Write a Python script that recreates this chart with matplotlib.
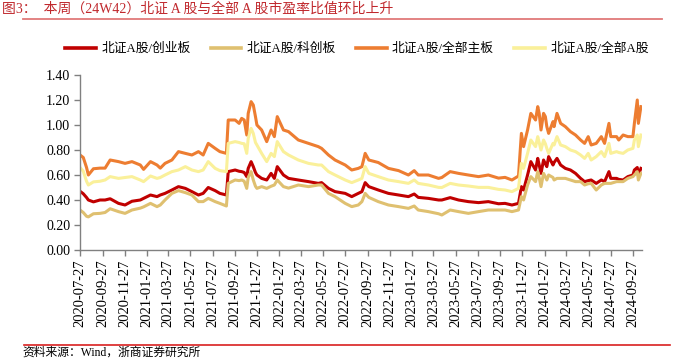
import pandas as pd
import matplotlib
matplotlib.use("Agg")
import matplotlib.pyplot as plt
from matplotlib.lines import Line2D

plt.rcParams['font.family'] = ['Liberation Serif', 'Noto Sans CJK SC', 'DejaVu Sans']

# readings, one shared date grid
dates = [
    "2020-07-27", "2020-08-05", "2020-08-14", "2020-08-19", "2020-09-02", "2020-09-20",
    "2020-10-04", "2020-10-18", "2020-11-10", "2020-11-28", "2020-12-17", "2021-01-09",
    "2021-01-18", "2021-02-06", "2021-02-24", "2021-03-05", "2021-03-18", "2021-04-06",
    "2021-04-24", "2021-05-13", "2021-05-31", "2021-06-18", "2021-07-01", "2021-07-15",
    "2021-08-03", "2021-08-16", "2021-09-03", "2021-09-08", "2021-09-27", "2021-10-08",
    "2021-10-15", "2021-10-22", "2021-10-29", "2021-11-02", "2021-11-10", "2021-11-16",
    "2021-11-22", "2021-11-26", "2021-12-09", "2021-12-23", "2022-01-04", "2022-01-13",
    "2022-01-21", "2022-02-07", "2022-02-21", "2022-03-20", "2022-04-17", "2022-05-14",
    "2022-05-23", "2022-06-11", "2022-06-29", "2022-07-27", "2022-08-14", "2022-09-01",
    "2022-09-11", "2022-09-20", "2022-09-30", "2022-10-26", "2022-11-23", "2022-12-21",
    "2023-01-17", "2023-02-02", "2023-02-13", "2023-03-13", "2023-04-10", "2023-04-19",
    "2023-05-12", "2023-06-04", "2023-07-01", "2023-07-29", "2023-08-25", "2023-09-22",
    "2023-10-10", "2023-10-29", "2023-11-16", "2023-11-24", "2023-11-30", "2023-12-11",
    "2023-12-20", "2024-01-02", "2024-01-08", "2024-01-12", "2024-01-17", "2024-01-24",
    "2024-01-29", "2024-02-02", "2024-02-07", "2024-02-19", "2024-02-22", "2024-03-01",
    "2024-03-11", "2024-03-24", "2024-04-07", "2024-04-21", "2024-05-05", "2024-05-16",
    "2024-05-26", "2024-06-03", "2024-06-17", "2024-07-01", "2024-07-10", "2024-07-22",
    "2024-07-27", "2024-08-12", "2024-08-18", "2024-08-30", "2024-09-12", "2024-09-26",
    "2024-09-30", "2024-10-08", "2024-10-11", "2024-10-18",
]

bse_gem = [  # 北证A股/创业板
    .47, .45, .42, .40, .385, .40, .40, .41, .373, .36, .39, .40,
    .413, .44, .427, .44, .453, .48, .507, .493, .467, .44, .453, .50,
    .475, .453, .44, .627, .64, .63, .627, .62, .587, .653, .707, .667,
    .62, .60, .573, .56, .613, .573, .667, .60, .573, .56, .547, .533,
    .539, .493, .467, .453, .427, .453, .467, .539, .507, .48, .453, .44,
    .427, .448, .421, .413, .40, .40, .419, .40, .387, .379, .387, .37,
    .373, .36, .373, .507, .48, .60, .707, .64, .733, .68, .613, .72,
    .69, .667, .747, .68, .70, .733, .68, .653, .64, .613, .573, .547,
    .555, .56, .533, .56, .547, .627, .573, .573, .565, .56, .587, .60,
    .64, .66, .60, .653,
]

bse_star = [  # 北证A股/科创板
    .32, .30, .27, .265, .29, .293, .30, .33, .307, .293, .32, .335,
    .345, .373, .347, .36, .40, .453, .475, .459, .44, .387, .387, .413,
    .387, .373, .352, .533, .56, .555, .56, .55, .493, .58, .627, .56,
    .51, .493, .507, .493, .51, .52, .56, .507, .495, .52, .507, .52,
    .52, .453, .427, .373, .347, .36, .387, .453, .421, .387, .36, .347,
    .333, .352, .32, .307, .29, .28, .32, .307, .293, .307, .32, .32,
    .32, .307, .32, .427, .40, .52, .587, .547, .627, .58, .507, .613,
    .585, .56, .60, .58, .56, .573, .573, .573, .56, .547, .547, .52,
    .53, .533, .48, .52, .533, .533, .533, .547, .547, .547, .573, .587,
    .60, .627, .56, .613,
]

bse_main = [  # 北证A股/全部主板
    .76, .74, .66, .60, .65, .655, .655, .72, .707, .693, .707, .68,
    .645, .707, .68, .655, .693, .72, .787, .773, .76, .787, .76, .853,
    .813, .787, .773, 1.04, 1.04, 1.013, 1.053, 1.04, .92, 1.093, 1.187, 1.16,
    1.067, 1.00, .96, .867, .96, .907, 1.067, .96, .947, .88, .853, .827,
    .813, .76, .72, .68, .64, .653, .667, .773, .72, .70, .653, .635,
    .60, .635, .60, .60, .573, .58, .627, .613, .60, .587, .60, .575,
    .581, .56, .592, .933, .827, .96, 1.093, 1.04, 1.147, 1.093, .96, 1.093,
    1.067, .987, .933, 1.027, .987, 1.093, 1.013, .987, .947, .92, .88, .853,
    .907, .84, .853, .907, .853, 1.013, .907, .907, .88, .92, .907, .907,
    1.013, 1.20, 1.013, 1.147,
]

bse_all = [  # 北证A股/全部A股
    .66, .63, .55, .52, .545, .55, .56, .587, .573, .58, .587, .56,
    .547, .592, .573, .58, .60, .627, .64, .667, .64, .627, .64, .707,
    .653, .635, .627, .853, .867, .86, .853, .85, .773, .893, .973, .933,
    .86, .84, .773, .707, .773, .747, .867, .787, .76, .72, .693, .68,
    .68, .627, .60, .56, .539, .56, .573, .667, .613, .587, .56, .547,
    .533, .56, .533, .52, .501, .50, .533, .52, .512, .501, .501, .485,
    .48, .467, .493, .693, .653, .773, .88, .827, .907, .86, .80, .88,
    .85, .813, .773, .853, .84, .907, .84, .827, .80, .787, .76, .733,
    .773, .72, .747, .787, .747, .853, .773, .787, .78, .773, .80, .813,
    .88, .92, .827, .92,
]

names = ["北证A股/创业板", "北证A股/科创板", "北证A股/全部主板", "北证A股/全部A股"]
colors = ["#C00000", "#DFC070", "#ED7D31", "#FAF09A"]

x = pd.to_datetime(dates)
fig = plt.figure(figsize=(6.73, 3.6), dpi=100)
ax = fig.add_axes([80 / 673, 110 / 360, 562 / 673, 175 / 360])

for vals, name, c in zip([bse_gem, bse_star, bse_main, bse_all], names, colors):
    ax.plot(x, vals, color=c, lw=2.2, label=name, solid_joinstyle='round')

ax.set_ylim(0, 1.4)
ax.set_yticks([i * 0.2 for i in range(8)])
ax.set_yticklabels(["%.2f" % (i * 0.2) for i in range(8)])
ax.set_xlim(pd.Timestamp("2020-07-27"), pd.Timestamp("2024-10-21"))
ticks = pd.date_range("2020-07-27", "2024-09-27", freq=pd.DateOffset(months=2))
ax.set_xticks(ticks)
ax.set_xticklabels([t.strftime("%Y-%m-%d") for t in ticks], rotation=90)

for s in ["top", "right"]:
    ax.spines[s].set_visible(False)
for s in ["left", "bottom"]:
    ax.spines[s].set_color("#808080")
    ax.spines[s].set_linewidth(1.0)
ax.tick_params(axis='both', colors="#808080", labelcolor="black", length=4, width=1)
ax.tick_params(axis='y', labelsize=10, pad=3)
ax.tick_params(axis='x', labelsize=10.5, pad=3)

handles = [Line2D([], [], color=c, lw=2.6) for c in colors]
fig.legend(handles, names, loc='center', bbox_to_anchor=(357 / 673, 1 - 49 / 360), ncol=4,
           frameon=False, fontsize=9.2, handlelength=2.4, handletextpad=0.4,
           columnspacing=1.6)

fig.text(2 / 673, 1 - 9 / 360, "图3：  本周（24W42）北证 A 股与全部 A 股市盈率比值环比上升",
         color="#C0282D", fontsize=10, va='center', ha='left')
fig.add_artist(Line2D([23 / 673, 662 / 673], [1 - 19 / 360, 1 - 19 / 360],
                      color="#E07A7A", lw=1.3, transform=fig.transFigure))
fig.add_artist(Line2D([24 / 673, 670 / 673], [1 - 345 / 360, 1 - 345 / 360],
                      color="#D92020", lw=1.2, transform=fig.transFigure))
fig.text(22 / 673, 1 / 360, "资料来源：Wind，浙商证券研究所",
         color="black", fontsize=8.5, va='bottom', ha='left')

fig.savefig("out.png", dpi=100)
